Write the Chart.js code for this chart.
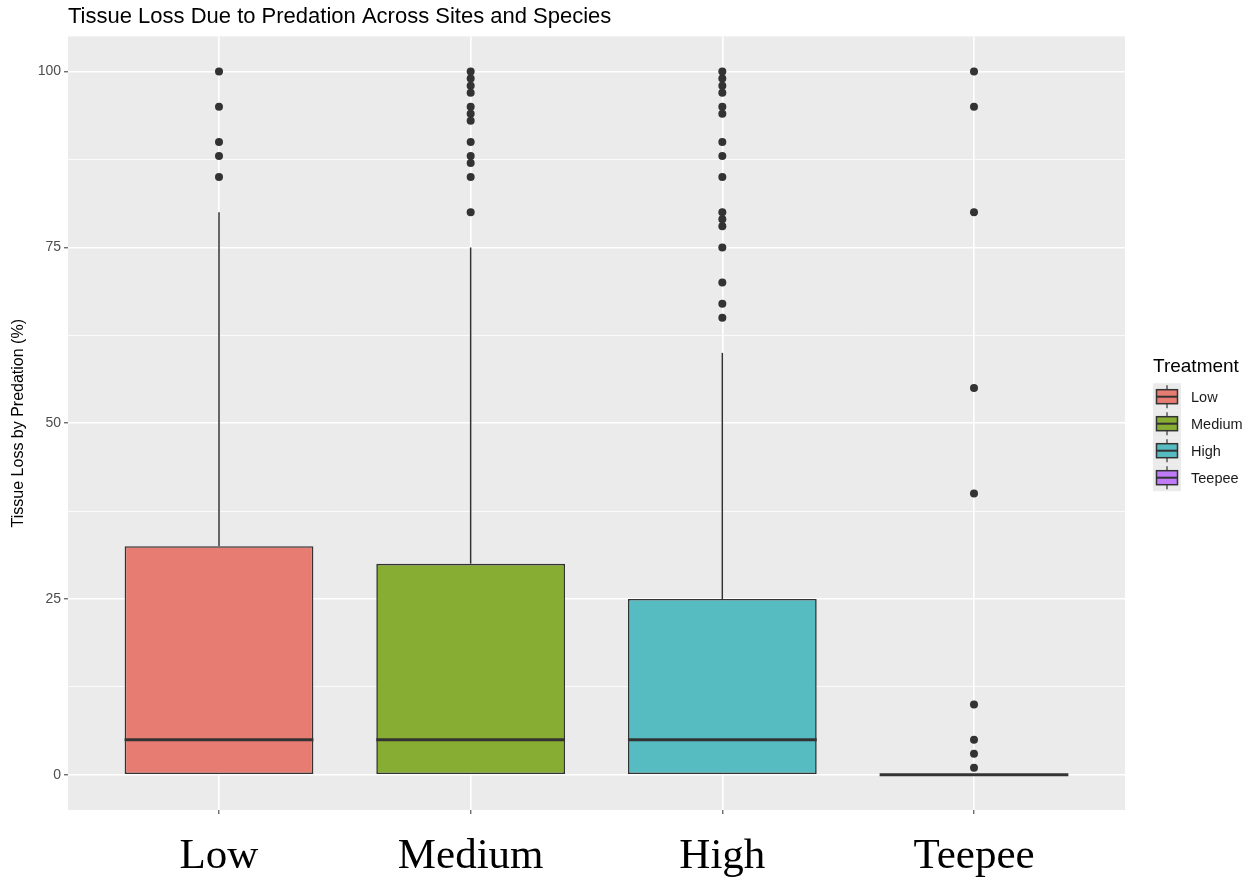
<!DOCTYPE html>
<html>
<head>
<meta charset="utf-8">
<title>Tissue Loss Due to Predation</title>
<script src="https://cdn.jsdelivr.net/npm/chart.js@4.4.0/dist/chart.umd.min.js"></script>
<style>
    html, body { margin: 0; padding: 0; background: #ffffff; }
    #wrap { width: 1251px; height: 878px; }
</style>
</head>
<body>
<div id="wrap"><canvas id="boxChart"></canvas></div>
<script>
// Box plot summary
const categories = ['Low', 'Medium', 'High', 'Teepee'];
const lowerWhisker = [0, 0, 0, 0];
const q1 = [0, 0, 0, 0];
const medians = [5, 5, 5, 0];
const q3 = [32.5, 30, 25, 0];
const upperWhisker = [80, 75, 60, 0];

// Outlier points per treatment
const outliersLow = [85, 88, 90, 95, 100];
const outliersMedium = [80, 85, 87, 88, 90, 93, 94, 95, 97, 98, 99, 100];
const outliersHigh = [65, 67, 70, 75, 78, 79, 80, 85, 88, 90, 94, 95, 97, 98, 99, 100];
const outliersTeepee = [1, 3, 5, 10, 40, 55, 80, 95, 100];

const yTicks = [0, 12.5, 25, 37.5, 50, 62.5, 75, 87.5, 100];
const yLabelTicks = [0, 25, 50, 75, 100];

const fillColors = ['#E77C73', '#88AD33', '#57BBC2', '#C07CF8'];
const lineColor = '#333333';

document.addEventListener('DOMContentLoaded', function() {
    initializeBoxChart();
});

// grey ggplot panel behind everything
const panelBackground = {
    id: 'panelBackground',
    beforeDraw(chart) {
        const { ctx, chartArea: a } = chart;
        ctx.save();
        ctx.fillStyle = '#EBEBEB';
        ctx.fillRect(a.left, a.top, a.right - a.left, a.bottom - a.top);
        ctx.restore();
    }
};

// whiskers and median lines, drawn through the chart scales
const boxParts = {
    id: 'boxParts',
    afterDatasetsDraw(chart) {
        const { ctx, scales: { x, y } } = chart;
        const half = (x.getPixelForValue(2) - x.getPixelForValue(1)) * 0.375;
        ctx.save();
        ctx.strokeStyle = lineColor;
        categories.forEach((name, i) => {
            const cx = x.getPixelForValue(i + 1);
            ctx.lineWidth = 1.5;
            ctx.beginPath();
            ctx.moveTo(cx, y.getPixelForValue(q3[i]));
            ctx.lineTo(cx, y.getPixelForValue(upperWhisker[i]));
            ctx.moveTo(cx, y.getPixelForValue(q1[i]));
            ctx.lineTo(cx, y.getPixelForValue(lowerWhisker[i]));
            ctx.stroke();

            ctx.lineWidth = 3;
            ctx.beginPath();
            const my = y.getPixelForValue(medians[i]);
            ctx.moveTo(cx - half, my);
            ctx.lineTo(cx + half, my);
            ctx.stroke();
        });
        ctx.restore();
    }
};

// ggplot style legend on the right
const treatmentLegend = {
    id: 'treatmentLegend',
    afterDraw(chart) {
        const { ctx, chartArea: a } = chart;
        const left = a.right + 28;
        const mid = (a.top + a.bottom) / 2;
        const keyW = 28, keyH = 27;
        ctx.save();
        ctx.fillStyle = '#000000';
        ctx.font = '19px "Liberation Sans", Arial, sans-serif';
        ctx.textBaseline = 'middle';
        ctx.textAlign = 'left';
        ctx.fillText('Treatment', left, mid - 56);

        categories.forEach((name, i) => {
            const cy = mid + (i - 1) * 27 + 0.5;
            const top = cy - keyH / 2;
            ctx.fillStyle = '#EBEBEB';
            ctx.fillRect(left, top, keyW, keyH);
            ctx.strokeStyle = lineColor;
            ctx.lineWidth = 1.2;
            ctx.beginPath();
            ctx.moveTo(left + keyW / 2, top + 2);
            ctx.lineTo(left + keyW / 2, top + 6.5);
            ctx.moveTo(left + keyW / 2, top + 20.5);
            ctx.lineTo(left + keyW / 2, top + 25);
            ctx.stroke();
            ctx.fillStyle = fillColors[i];
            ctx.fillRect(left + 3.5, top + 6.5, 21, 14);
            ctx.lineWidth = 1.5;
            ctx.strokeRect(left + 3.5, top + 6.5, 21, 14);
            ctx.lineWidth = 2;
            ctx.beginPath();
            ctx.moveTo(left + 3.5, top + 13.5);
            ctx.lineTo(left + 24.5, top + 13.5);
            ctx.stroke();

            ctx.fillStyle = '#1a1a1a';
            ctx.font = '14.5px "Liberation Sans", Arial, sans-serif';
            ctx.fillText(name, left + 38, cy + 1);
        });
        ctx.restore();
    }
};

function initializeBoxChart() {
    const canvas = document.getElementById('boxChart');
    if (!canvas) return;

    const boxDatasets = categories.map((name, i) => ({
        type: 'bar',
        label: name,
        data: [{ x: i + 1, y: [q1[i], q3[i]] }],
        backgroundColor: fillColors[i],
        borderColor: lineColor,
        borderWidth: 1.6,
        borderSkipped: false,
        grouped: false,
        barPercentage: 0.75,
        categoryPercentage: 1,
        order: 2
    }));

    const outlierPoints = [outliersLow, outliersMedium, outliersHigh, outliersTeepee]
        .flatMap((vals, i) => vals.map(v => ({ x: i + 1, y: v })));

    new Chart(canvas, {
        type: 'bar',
        data: {
            datasets: [...boxDatasets, {
                type: 'scatter',
                label: 'outliers',
                data: outlierPoints,
                backgroundColor: lineColor,
                borderWidth: 0,
                pointRadius: 4,
                order: 0
            }]
        },
        options: {
            responsive: true,
            maintainAspectRatio: false,
            animation: false,
            layout: { padding: { left: 0, right: 126, top: 0, bottom: 0 } },
            scales: {
                x: {
                    type: 'linear',
                    min: 0.4,
                    max: 4.6,
                    offset: false,
                    afterBuildTicks: scale => {
                        scale.ticks = categories.map((c, i) => ({ value: i + 1 }));
                    },
                    afterFit: scale => { scale.height = 68; },
                    border: { display: false },
                    grid: {
                        offset: false,
                        color: '#FFFFFF',
                        lineWidth: 1.6,
                        tickColor: lineColor,
                        tickLength: 4,
                        tickWidth: 1
                    },
                    ticks: {
                        autoSkip: false,
                        maxRotation: 0,
                        padding: 17,
                        color: '#000000',
                        font: { family: '"Liberation Serif", "Times New Roman", serif', size: 43 },
                        callback: value => categories[value - 1]
                    }
                },
                y: {
                    min: -5,
                    max: 105,
                    afterBuildTicks: scale => {
                        scale.ticks = yTicks.map(v => ({ value: v }));
                    },
                    afterFit: scale => { scale.width = 68; },
                    border: { display: false },
                    grid: {
                        color: '#FFFFFF',
                        lineWidth: ctx => yLabelTicks.includes(ctx.tick.value) ? 1.6 : 0.8,
                        tickColor: ctx => yLabelTicks.includes(ctx.tick.value) ? lineColor : 'rgba(0,0,0,0)',
                        tickLength: 4,
                        tickWidth: 1
                    },
                    ticks: {
                        autoSkip: false,
                        padding: 3,
                        color: '#4D4D4D',
                        font: { family: '"Liberation Sans", Arial, sans-serif', size: 14 },
                        callback: value => yLabelTicks.includes(value) ? value : ''
                    },
                    title: {
                        display: true,
                        text: 'Tissue Loss by Predation (%)',
                        color: '#000000',
                        padding: { top: 9, bottom: 0 },
                        font: { family: '"Liberation Sans", Arial, sans-serif', size: 16 }
                    }
                }
            },
            plugins: {
                legend: { display: false },
                tooltip: { enabled: false },
                title: {
                    display: true,
                    text: 'Tissue Loss Due to Predation Across Sites and Species',
                    align: 'start',
                    fullSize: false,
                    color: '#000000',
                    padding: { top: 4, bottom: 6 },
                    font: { family: '"Liberation Sans", Arial, sans-serif', size: 22, weight: 'normal' }
                }
            }
        },
        plugins: [panelBackground, boxParts, treatmentLegend]
    });
}
</script>
</body>
</html>
